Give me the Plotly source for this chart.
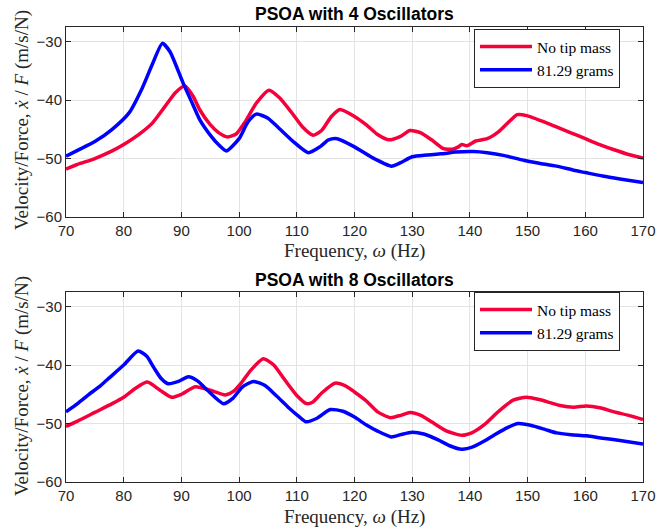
import plotly.graph_objects as go

# ---------------- data ----------------
f_top_red = [70, 72, 75, 78, 80, 83, 85, 87, 89, 90.6, 92, 93.2, 95, 96.5, 98, 99.5, 101, 103, 105.2, 107, 109, 111, 112.8, 114.3, 116, 117.5, 120, 122, 124, 125.9, 128, 129.6, 131.5, 133.5, 135.4, 137, 138, 138.6, 139.5, 141, 143, 145, 147, 148.2, 150, 152.5, 155, 157.5, 160, 162.5, 165, 167.5, 170]
v_top_red = [-51.8, -51.0, -50.0, -48.7, -47.6, -45.6, -43.9, -41.3, -38.7, -37.6, -39.3, -41.7, -44.2, -45.6, -46.3, -45.8, -43.8, -40.5, -38.3, -39.6, -42.0, -44.6, -46.0, -45.2, -42.8, -41.6, -42.8, -44.2, -45.9, -46.8, -46.2, -45.2, -45.6, -46.9, -48.3, -48.4, -48.0, -47.6, -47.8, -47.0, -46.6, -45.4, -43.5, -42.5, -42.7, -43.6, -44.6, -45.6, -46.6, -47.6, -48.5, -49.3, -49.9]

f_top_blue = [70, 72, 75, 78, 81, 83.1, 85, 86.7, 88, 90.3, 92, 93.2, 95, 96.5, 97.8, 100, 101.5, 103, 105, 107, 109.5, 112, 114, 115.5, 117, 120, 123, 126.4, 128, 130, 132.5, 135, 137.5, 140.6, 143, 146, 149.3, 152, 155, 158, 160, 163, 166, 170]
v_top_blue = [-49.6, -48.6, -47.1, -45.0, -42.1, -38.2, -33.8, -30.3, -31.7, -37.1, -40.8, -43.4, -46.0, -47.7, -48.7, -46.6, -43.8, -42.4, -43.1, -44.9, -47.2, -49.0, -48.0, -46.8, -46.6, -48.0, -49.8, -51.3, -50.7, -49.7, -49.4, -49.2, -48.9, -48.8, -49.0, -49.5, -50.3, -50.8, -51.3, -52.0, -52.4, -53.0, -53.5, -54.1]

f_bot_red = [70, 72, 75, 78, 80, 82, 84.1, 86.3, 88.3, 90, 92.4, 95, 97.6, 99, 100.5, 102, 104.2, 106, 107.6, 110, 111.7, 112.8, 114.4, 116.6, 118.5, 120, 122, 124, 126.2, 128, 129.6, 131.5, 133.5, 136, 138.6, 140.5, 142.5, 145, 147.5, 149.8, 152, 155.6, 158, 160.2, 162.5, 165, 167.5, 170]
v_bot_red = [-50.5, -49.6, -48.1, -46.6, -45.5, -44.0, -42.9, -44.3, -45.5, -45.0, -43.7, -44.3, -45.1, -44.5, -42.9, -40.9, -38.9, -40.0, -42.1, -45.2, -46.6, -46.3, -44.7, -43.1, -43.6, -44.6, -46.1, -48.0, -49.0, -48.6, -48.1, -48.6, -49.8, -51.3, -52.0, -51.5, -50.2, -47.9, -46.0, -45.5, -45.9, -46.9, -47.2, -47.0, -47.3, -48.0, -48.6, -49.3]

f_bot_blue = [70, 72, 74, 76, 77.6, 80, 82.5, 84, 85.2, 86.5, 87.7, 89.5, 91.2, 92.8, 94.5, 97.3, 99, 100.5, 102.5, 104.5, 106.5, 108.5, 110.5, 111.6, 113.5, 115.8, 118, 120, 122, 124, 126.4, 128, 130, 132, 134.5, 136.5, 138.6, 140.5, 142.5, 144.5, 146.5, 148.4, 150.5, 153, 155, 157.5, 160.2, 163, 166, 170]
v_bot_blue = [-48.0, -46.6, -45.0, -43.5, -42.1, -40.0, -37.6, -38.5, -40.4, -42.3, -43.2, -42.8, -42.0, -42.7, -44.3, -46.6, -45.6, -43.8, -42.8, -43.5, -45.3, -47.2, -48.9, -49.7, -49.1, -47.6, -47.9, -48.9, -50.2, -51.3, -52.3, -51.9, -51.5, -51.8, -52.8, -53.8, -54.4, -54.0, -53.0, -51.8, -50.7, -50.0, -50.3, -51.0, -51.6, -51.9, -52.1, -52.5, -52.9, -53.5]

series_names = ["No tip mass", "81.29 grams"]
titles = ["PSOA with 4 Oscillators", "PSOA with 8 Oscillators"]
x_ticks = [70, 80, 90, 100, 110, 120, 130, 140, 150, 160, 170]
y_ticks = [-60, -50, -40, -30]
x_label = "Frequency, <i>ω</i> (Hz)"
y_label = "Velocity/Force, <i>ẋ</i> / <i>F</i> (m/s/N)"

RED = "#F5003A"
BLUE = "#0000FF"
SERIF = "'Liberation Serif', 'DejaVu Serif', serif"
SANS = "'Liberation Sans', Arial, sans-serif"

fig = go.Figure()

data_sets = [
    (f_top_red, v_top_red, f_top_blue, v_top_blue, "x", "y", "legend"),
    (f_bot_red, v_bot_red, f_bot_blue, v_bot_blue, "x2", "y2", "legend2"),
]
for fr, vr, fb, vb, xa, ya, lg in data_sets:
    fig.add_trace(go.Scatter(x=fr, y=vr, mode="lines", name=series_names[0],
                             line=dict(color=RED, width=3.5, shape="spline", smoothing=0.6),
                             xaxis=xa, yaxis=ya, legend=lg))
    fig.add_trace(go.Scatter(x=fb, y=vb, mode="lines", name=series_names[1],
                             line=dict(color=BLUE, width=3.5, shape="spline", smoothing=0.6),
                             xaxis=xa, yaxis=ya, legend=lg))

W, H = 667, 529
L, R, T, B = 66, 24, 27, 47
ph = H - T - B
top_dom = [(H - B - 217) / ph, 1.0]
bot_dom = [0.0, (H - B - 292) / ph]

axis_common = dict(
    showline=True, linecolor="#262626", linewidth=1, mirror="allticks",
    ticks="inside", ticklen=5, tickcolor="#262626",
    showgrid=True, gridcolor="#E3E3E3", gridwidth=1, zeroline=False,
    tickfont=dict(family=SANS, size=15, color="#262626"),
)

leg_common = dict(xanchor="left", yanchor="top", bgcolor="white", bordercolor="#262626",
                  borderwidth=1, font=dict(family=SERIF, size=15.5, color="#000"),
                  itemwidth=52, tracegroupgap=0)

fig.update_layout(
    width=W, height=H,
    font=dict(family=SERIF),
    margin=dict(l=L, r=R, t=T, b=B),
    paper_bgcolor="white", plot_bgcolor="white",
    xaxis=dict(domain=[0, 1], range=[70, 170], tickvals=x_ticks, anchor="y", **axis_common),
    yaxis=dict(domain=top_dom, range=[-60, -27.5], tickvals=y_ticks, anchor="x", **axis_common),
    xaxis2=dict(domain=[0, 1], range=[70, 170], tickvals=x_ticks, anchor="y2", **axis_common),
    yaxis2=dict(domain=bot_dom, range=[-60, -27.5], tickvals=y_ticks, anchor="x2", **axis_common),
    legend=dict(x=(474 - L) / (W - L - R), y=(H - B - 29) / ph, **leg_common),
    legend2=dict(x=(474 - L) / (W - L - R), y=(H - B - 292) / ph, **leg_common),
    showlegend=True,
)

def px_x(p):
    return (p - L) / (W - L - R)

def px_y(p):
    return (H - B - p) / ph

ann = []
for title, ty in zip(titles, [14, 280]):
    ann.append(dict(text="<b>" + title + "</b>", x=px_x(354), y=px_y(ty), xref="paper", yref="paper",
                    showarrow=False, xanchor="center", yanchor="middle",
                    font=dict(family=SANS, size=17.5, color="#000")))
for ly in [251, 517]:
    ann.append(dict(text=x_label, x=px_x(354), y=px_y(ly), xref="paper", yref="paper",
                    showarrow=False, xanchor="center", yanchor="middle",
                    font=dict(family=SERIF, size=19, color="#262626")))
for cy in [120, 386]:
    ann.append(dict(text=y_label, x=px_x(22), y=px_y(cy), xref="paper", yref="paper",
                    showarrow=False, xanchor="center", yanchor="middle", textangle=-90,
                    font=dict(family=SERIF, size=19, color="#262626")))
fig.update_layout(annotations=ann)

fig.write_html("out.html")
